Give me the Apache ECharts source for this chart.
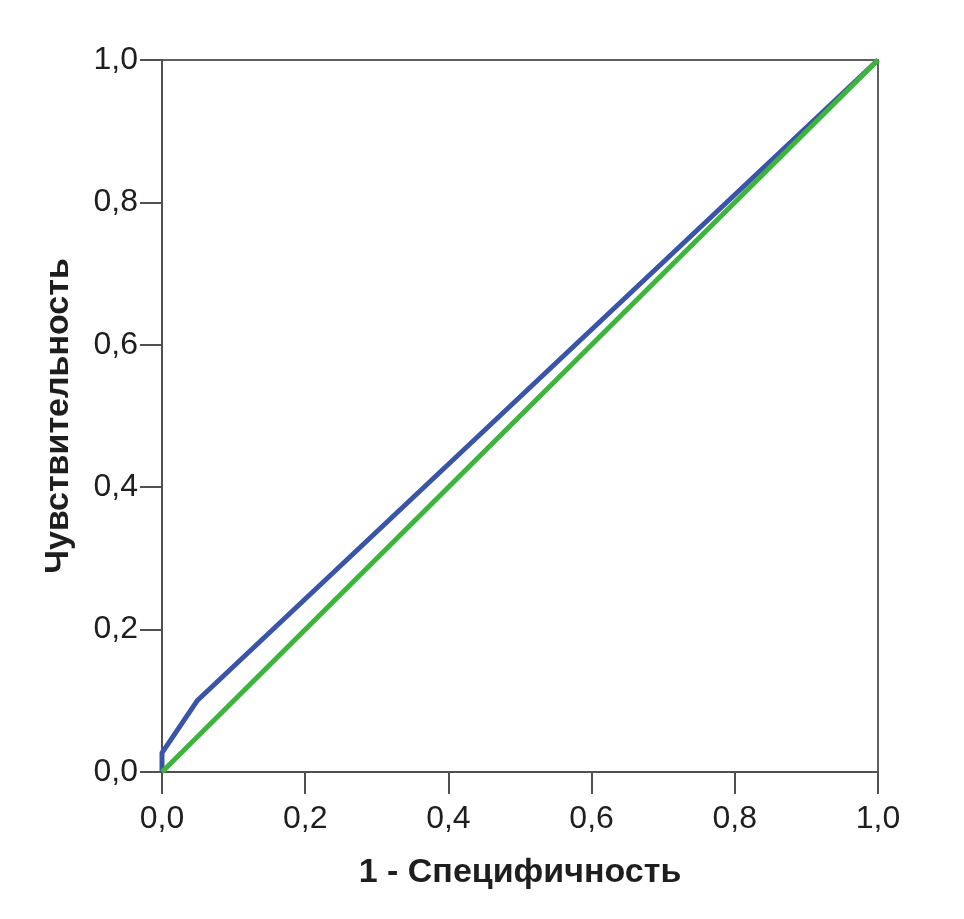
<!DOCTYPE html>
<html>
<head>
<meta charset="utf-8">
<script src="https://cdn.jsdelivr.net/npm/echarts@6/dist/echarts.min.js"></script>
<style>
  html, body { margin: 0; padding: 0; background: #fff; }
  #roc { width: 964px; height: 919px; }
</style>
</head>
<body>
<div id="roc"></div>
<script>
  // ROC curve points (1 - specificity, sensitivity)
  const fprCurve = [0, 0, 0.049, 1];
  const tprCurve = [0, 0.027, 0.1, 1];
  // reference diagonal
  const fprRef = [0, 1];
  const tprRef = [0, 1];
  const axisTicks = [0, 0.2, 0.4, 0.6, 0.8, 1.0];

  const pairs = (xs, ys) => xs.map((x, i) => [x, ys[i]]);
  const fmt = v => v.toFixed(1).replace('.', ',');

  const chart = echarts.init(document.getElementById('roc'));
  const labelStyle = {
    color: '#1e1e1e',
    fontSize: 32,
    fontFamily: 'Liberation Sans, Arial, sans-serif'
  };
  const nameStyle = {
    color: '#1e1e1e', fontSize: 34, fontWeight: 'bold',
    fontFamily: 'Liberation Sans, Arial, sans-serif'
  };
  const axisLineStyle = { color: '#505050', width: 2 };

  chart.setOption({
    animation: false,
    grid: {
      left: 162, right: 86, top: 60, bottom: 147,
      show: true,
      borderColor: '#606060',
      borderWidth: 2,
      backgroundColor: '#fff'
    },
    xAxis: {
      type: 'value',
      min: 0, max: 1, interval: 0.2,
      name: '1 - Специфичность',
      nameLocation: 'middle',
      nameGap: 84,
      nameTextStyle: nameStyle,
      axisLine: { show: true, lineStyle: axisLineStyle },
      axisTick: { show: true, length: 22, lineStyle: axisLineStyle },
      splitLine: { show: false },
      axisLabel: Object.assign({ margin: 31, formatter: fmt, customValues: axisTicks }, labelStyle)
    },
    yAxis: {
      type: 'value',
      min: 0, max: 1, interval: 0.2,
      name: 'Чувствительность',
      nameLocation: 'middle',
      nameGap: 86,
      nameTextStyle: nameStyle,
      axisLine: { show: true, lineStyle: axisLineStyle },
      axisTick: { show: true, length: 22, lineStyle: axisLineStyle },
      splitLine: { show: false },
      axisLabel: Object.assign({ margin: 24, formatter: fmt }, labelStyle)
    },
    series: [
      {
        name: 'ROC',
        type: 'line',
        data: pairs(fprCurve, tprCurve),
        symbol: 'none',
        lineStyle: { color: '#3a55a8', width: 5 },
        z: 3
      },
      {
        name: 'Reference',
        type: 'line',
        data: pairs(fprRef, tprRef),
        symbol: 'none',
        lineStyle: { color: '#3db43c', width: 5 },
        z: 4
      }
    ]
  });

  window.addEventListener('resize', function () {
    chart.resize();
  });
</script>
</body>
</html>
